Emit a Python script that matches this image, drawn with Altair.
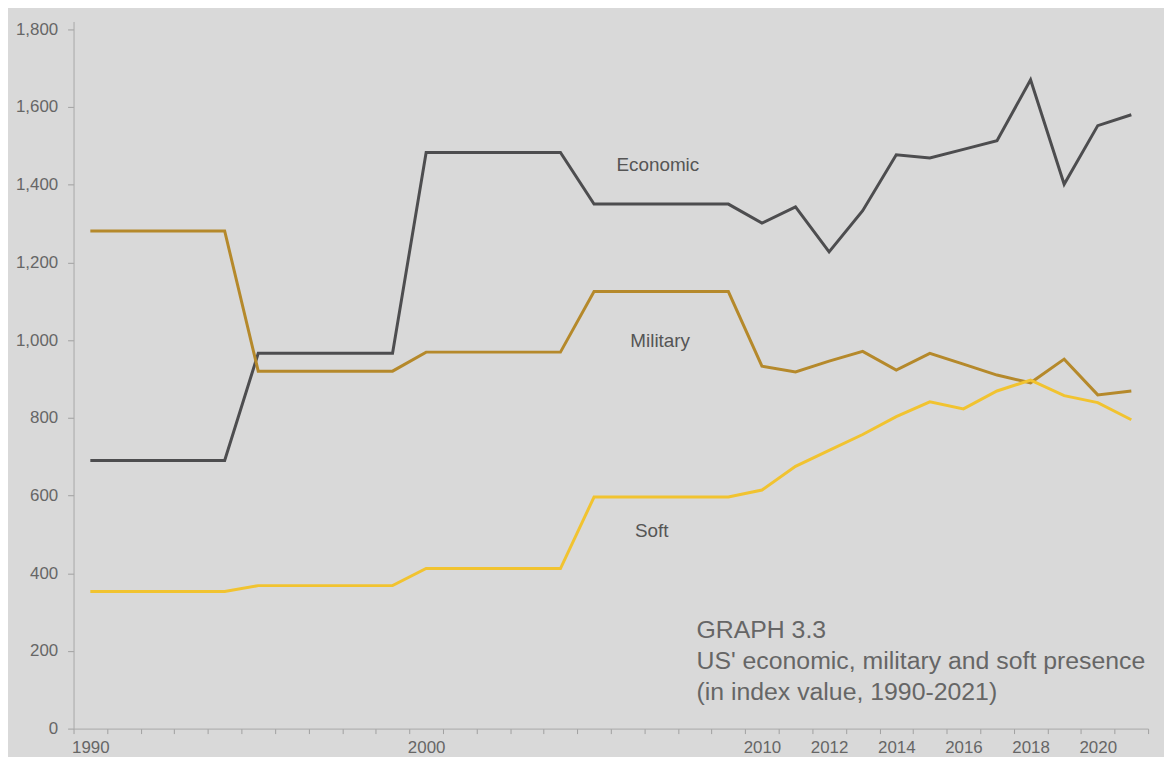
import altair as alt
import pandas as pd

# ---- data (index values) ----
years = [1990, 1991, 1992, 1993, 1994, 1995, 1996, 1997, 1998, 1999,
         2000, 2001, 2002, 2003, 2004, 2005, 2006, 2007, 2008, 2009,
         2010, 2011, 2012, 2013, 2014, 2015, 2016, 2017, 2018, 2019,
         2020, 2021]
economic = [690, 690, 690, 690, 690, 966, 966, 966, 966, 966,
            1483, 1483, 1483, 1483, 1483, 1350, 1350, 1350, 1350, 1350,
            1301, 1343, 1227, 1333, 1477, 1469, 1491, 1513, 1670, 1401,
            1552, 1580]
military = [1281, 1281, 1281, 1281, 1281, 920, 920, 920, 920, 920,
            969, 969, 969, 969, 969, 1125, 1125, 1125, 1125, 1125,
            933, 918, 946, 971, 923, 966, 938, 910, 890, 951,
            859, 869]
soft = [353, 353, 353, 353, 353, 368, 368, 368, 368, 368,
        412, 412, 412, 412, 412, 596, 596, 596, 596, 596,
        614, 675, 716, 757, 803, 841, 823, 869, 897, 857,
        839, 795]

series_names = ["Economic", "Military", "Soft"]
series_colors = ["#4d4d4f", "#b5892b", "#f1c330"]

x_tick_labels = [1990, 2000, 2010, 2012, 2014, 2016, 2018, 2020]
y_ticks = [0, 200, 400, 600, 800, 1000, 1200, 1400, 1600, 1800]

# in-plot series labels (data coordinates)
label_text = ["Economic", "Military", "Soft"]
label_year = [2006.9, 2006.97, 2006.72]
label_value = [1450, 997, 509]

note_text = "GRAPH 3.3\nUS' economic, military and soft presence\n(in index value, 1990-2021)"
note_year = [2008.05]
note_value = [233]

# ---- build tables ----
rows = []
for name, vals in zip(series_names, [economic, military, soft]):
    for y, v in zip(years, vals):
        rows.append({"year": y, "value": v, "series": name})
df = pd.DataFrame(rows)

labels_df = pd.DataFrame({"text": label_text, "year": label_year, "value": label_value})
note_df = pd.DataFrame({"text": [note_text], "year": note_year, "value": note_value})

FONT = "Liberation Sans"
W, H = 1082, 712
x_lo, x_hi = years[0] - 0.5, years[-1] + 0.5
band_px = W / len(years)
boundaries = [y - 0.5 for y in years] + [years[-1] + 0.5]

x_scale = alt.Scale(domain=[x_lo, x_hi], nice=False, zero=False)
y_scale = alt.Scale(domain=[0, 1820], nice=False)

label_list = ",".join(str(v) for v in x_tick_labels)
x_axis = alt.Axis(
    values=boundaries,
    tickCount=len(boundaries) + 5,
    labelExpr=f"indexof([{label_list}], datum.value + 0.5) >= 0 ? toString(datum.value + 0.5) : ''",
    labelOffset=band_px / 2,
    labelFlush=False,
    labelOverlap=False,
    grid=False,
    title=None,
    tickSize=5,
    tickWidth=1,
    tickRound=True,
    tickColor="#a0a0a0",
    domainColor="#a8a8a8",
    labelColor="#666666",
    labelFontSize=17,
    labelFont=FONT,
    labelPadding=6,
)
y_axis = alt.Axis(
    values=y_ticks,
    tickCount=len(y_ticks) + 2,
    format=",d",
    grid=False,
    title=None,
    tickSize=6,
    tickColor="#a0a0a0",
    domainColor="#a8a8a8",
    labelColor="#666666",
    labelFontSize=17,
    labelFont=FONT,
    labelPadding=10,
)

lines = alt.Chart(df).mark_line(strokeWidth=3).encode(
    x=alt.X("year:Q", scale=x_scale, axis=x_axis),
    y=alt.Y("value:Q", scale=y_scale, axis=y_axis),
    color=alt.Color("series:N", scale=alt.Scale(domain=series_names, range=series_colors), legend=None),
    order=alt.Order("year:Q"),
)

labels = alt.Chart(labels_df).mark_text(
    font=FONT, fontSize=19, color="#555555", align="center", baseline="middle"
).encode(
    x=alt.X("year:Q", scale=x_scale),
    y=alt.Y("value:Q", scale=y_scale),
    text="text:N",
)

note = alt.Chart(note_df).mark_text(
    font=FONT, fontSize=25, color="#666666", align="left", baseline="alphabetic",
    lineBreak="\n", lineHeight=31,
).encode(
    x=alt.X("year:Q", scale=x_scale),
    y=alt.Y("value:Q", scale=y_scale),
    text="text:N",
)

chart = alt.layer(lines, labels, note).properties(
    width=W,
    height=H,
    autosize=alt.AutoSizeParams(type="none"),
    padding={"left": 66, "top": 11, "right": 16, "bottom": 26},
    background="#d9d9d9",
).configure_view(stroke=None)

chart.save("out.html", embed_options={"renderer": "svg", "actions": False})
